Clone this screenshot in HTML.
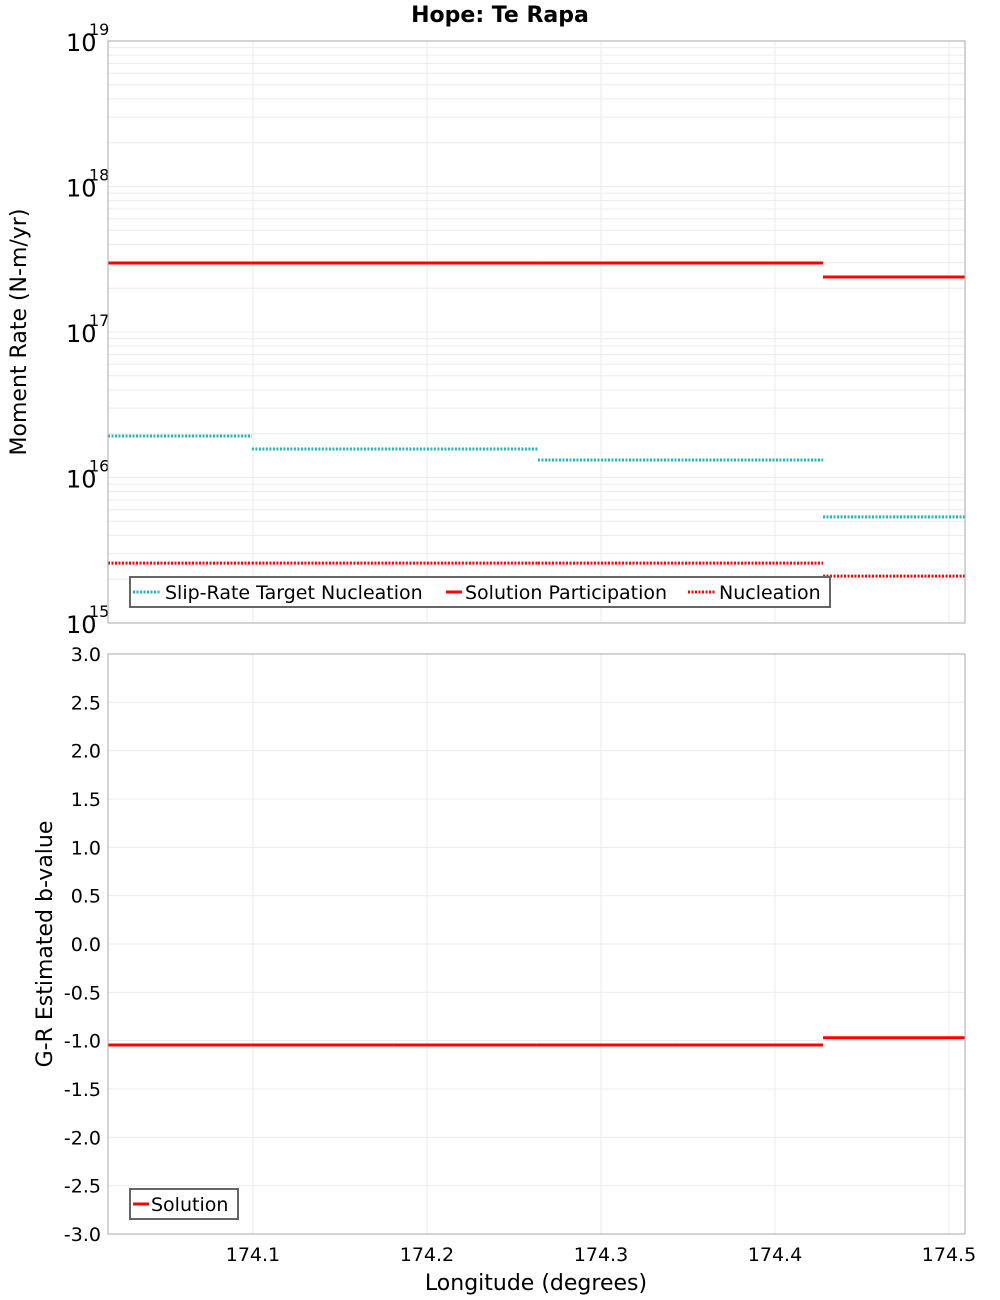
<!DOCTYPE html>
<html><head><meta charset="utf-8"><style>
html,body{margin:0;padding:0;background:#fff;}
svg{display:block;font-family:"DejaVu Sans","Liberation Sans",sans-serif;}
</style></head><body>
<svg id="chart" width="1000" height="1300" viewBox="0 0 1000 1300" xmlns="http://www.w3.org/2000/svg">
<text x="500" y="22" text-anchor="middle" font-size="22" font-weight="bold">Hope: Te Rapa</text>
<g id="topPanel"></g>
<g id="botPanel"></g>
</svg>
<script>
// data
const sectionEdges = [174.0167, 174.0994, 174.2638, 174.4276, 174.5092];
const targetNucleation = [1.93e16, 1.57e16, 1.32e16, 5.36e15];
const solutionParticipation = [2.98e17, 2.98e17, 2.98e17, 2.39e17];
const nucleation = [2.58e15, 2.58e15, 2.58e15, 2.10e15];
const bEdges = [174.0167, 174.0994, 174.1810, 174.2632, 174.3454, 174.4276, 174.5092];
const bValues = [-1.045, -1.045, -1.045, -1.045, -1.045, -0.97];
const xTicks = [174.1, 174.2, 174.3, 174.4, 174.5];
const logTicks = [15, 16, 17, 18, 19];
const bTicks = [-3, -2.5, -2, -1.5, -1, -0.5, 0, 0.5, 1, 1.5, 2, 2.5, 3];

const NS = "http://www.w3.org/2000/svg";
const L = 108, R = 965;
const xMin = 174.0167, xMax = 174.5092;
const X = v => L + (v - xMin) / (xMax - xMin) * (R - L);
const T0 = 41, T1 = 623, B0 = 654, B1 = 1234;
const Ylog = v => T1 - (Math.log10(v) - 15) / 4 * (T1 - T0);
const Yb = v => B1 - (v + 3) / 6 * (B1 - B0);

function mk(parent, tag, attrs, text) {
  const el = document.createElementNS(NS, tag);
  for (const k in attrs) el.setAttribute(k, attrs[k]);
  if (text !== undefined) el.textContent = text;
  parent.appendChild(el);
  return el;
}
const topG = document.getElementById('topPanel');
const botG = document.getElementById('botPanel');

let e = mk(topG, 'rect', {x: L, y: T0, width: R - L, height: T1 - T0, fill: '#fff', stroke: 'none'});


for (let d = 15; d < 19; d++) {
  for (let m = 1; m <= 9; m++) {
    const y = Ylog(m * Math.pow(10, d));
    e = mk(topG, 'line', {x1: L, x2: R, y1: y, y2: y, stroke: '#ececec', 'stroke-width': 1});
    
    
  }
}
xTicks.forEach(t => {
  e = mk(topG, 'line', {x1: X(t), x2: X(t), y1: T0, y2: T1, stroke: '#ececec', 'stroke-width': 1});
  
  
  e = mk(botG, 'line', {x1: X(t), x2: X(t), y1: B0, y2: B1, stroke: '#ececec', 'stroke-width': 1});
  
  
});
logTicks.forEach(d => {
  const y = Ylog(Math.pow(10, d));
  const g = mk(topG, 'g', {});
  
  
  mk(g, 'text', {x: 66, y: y + 10, 'font-size': 24}, '10');
  mk(g, 'text', {x: 89, y: y - 6, 'font-size': 16}, String(d));
});
function drawSteps(parent, edges, vals, yf, color, dash, name) {
  vals.forEach((v, i) => {
    const a = {x1: X(edges[i]), x2: X(edges[i + 1]), y1: yf(v), y2: yf(v), stroke: color, 'stroke-width': 3};
    if (dash) a['stroke-dasharray'] = '2,1.5';
    const ln = mk(parent, 'line', a);
    
    
  });
}
drawSteps(topG, sectionEdges, targetNucleation, Ylog, '#1fb8b8', true, 'slip-rate-target-nucleation-segment');
drawSteps(topG, sectionEdges, solutionParticipation, Ylog, '#ff0000', false, 'solution-participation-segment');
drawSteps(topG, sectionEdges, nucleation, Ylog, '#ff0000', true, 'nucleation-segment');
e = mk(topG, 'rect', {x: L, y: T0, width: R - L, height: T1 - T0, fill: 'none', stroke: '#aaa', 'stroke-width': 1});


const lg = mk(topG, 'g', {});


mk(lg, 'rect', {x: 130, y: 577, width: 700, height: 30, fill: '#fff', stroke: '#666', 'stroke-width': 2});
[[133, 161, '#1fb8b8', true, 'Slip-Rate Target Nucleation', 165],
 [446, 462, '#ff0000', false, 'Solution Participation', 465],
 [688, 716, '#ff0000', true, 'Nucleation', 719]].forEach(it => {
  const a = {x1: it[0], x2: it[1], y1: 592, y2: 592, stroke: it[2], 'stroke-width': 3};
  if (it[3]) a['stroke-dasharray'] = '2,1.5';
  mk(lg, 'line', a);
  const t = mk(lg, 'text', {x: it[5], y: 599, 'font-size': 19}, it[4]);
  
  
});
e = mk(topG, 'text', {x: 0, y: 0, 'font-size': 22, 'text-anchor': 'middle', transform: 'translate(26,332) rotate(-90)'}, 'Moment Rate (N-m/yr)');



bTicks.forEach(t => {
  const y = Yb(t);
  e = mk(botG, 'line', {x1: L, x2: R, y1: y, y2: y, stroke: '#ececec', 'stroke-width': 1});
  
  
  e = mk(botG, 'text', {x: 101, y: y + 7, 'font-size': 19, 'text-anchor': 'end'}, t.toFixed(1));
  
  
});
drawSteps(botG, bEdges, bValues, Yb, '#ff0000', false, 'b-value-segment');
e = mk(botG, 'rect', {x: L, y: B0, width: R - L, height: B1 - B0, fill: 'none', stroke: '#aaa', 'stroke-width': 1});


xTicks.forEach(t => {
  e = mk(botG, 'text', {x: X(t), y: 1261, 'font-size': 19, 'text-anchor': 'middle'}, t.toFixed(1));
  
  
});
const bl = mk(botG, 'g', {});


mk(bl, 'rect', {x: 130, y: 1189, width: 108, height: 30, fill: '#fff', stroke: '#666', 'stroke-width': 2});
mk(bl, 'line', {x1: 133, x2: 149, y1: 1204, y2: 1204, stroke: '#ff0000', 'stroke-width': 3});
e = mk(bl, 'text', {x: 151, y: 1211, 'font-size': 19}, 'Solution');


e = mk(botG, 'text', {x: 0, y: 0, 'font-size': 22, 'text-anchor': 'middle', transform: 'translate(52,944) rotate(-90)'}, 'G-R Estimated b-value');


e = mk(botG, 'text', {x: 536, y: 1290, 'font-size': 22, 'text-anchor': 'middle'}, 'Longitude (degrees)');


</script>
</body></html>
